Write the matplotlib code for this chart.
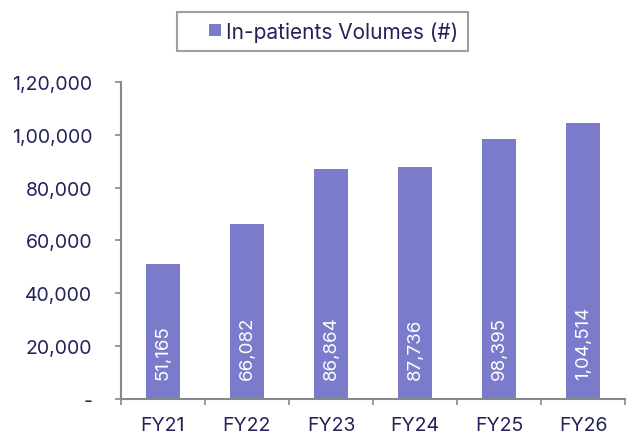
import matplotlib.pyplot as plt
import numpy as np
from matplotlib.lines import Line2D
from matplotlib.ticker import FixedLocator, FuncFormatter

years = ["FY21", "FY22", "FY23", "FY24", "FY25", "FY26"]
inpatients = [51165, 66082, 86864, 87736, 98395, 104514]
value_labels = ["51,165", "66,082", "86,864", "87,736", "98,395", "1,04,514"]
series_name = "In-patients Volumes (#)"

bar_color = "#7b7bcb"
text_color = "#23235a"
axis_color = "#888888"

plt.rcParams["font.family"] = ["Inter", "DejaVu Sans"]


def indian_fmt(v, pos=None):
    # lakh-style grouping: 1,20,000
    v = int(round(v))
    if v == 0:
        return "-"
    s = str(v)
    if len(s) <= 3:
        return s
    head, tail = s[:-3], s[-3:]
    groups = []
    while len(head) > 2:
        groups.insert(0, head[-2:])
        head = head[:-2]
    if head:
        groups.insert(0, head)
    return ",".join(groups + [tail])


fig = plt.figure(figsize=(6.29, 4.39), dpi=100)
ax = fig.add_axes([0.192, 0.089, 0.802, 0.722])

x = np.arange(len(years))
ax.bar(x, inpatients, width=0.4, color=bar_color)

for xi, lab in zip(x, value_labels):
    ax.text(xi, 7500, lab, rotation=90, ha="center", va="bottom",
            color="white", fontsize=13.5)

ax.set_xlim(-0.5, len(years) - 0.5)
ax.set_ylim(0, 120000)
ax.set_yticks(np.arange(0, 120001, 20000))
ax.yaxis.set_major_formatter(FuncFormatter(indian_fmt))
ax.set_xticks(x)
ax.set_xticklabels(years)
ax.xaxis.set_minor_locator(FixedLocator(np.arange(-0.5, len(years), 1.0)))
ax.tick_params(axis="x", which="major", length=0, pad=12,
               labelsize=14, labelcolor=text_color)
ax.tick_params(axis="x", which="minor", length=4.5, color=axis_color, width=1.2)
ax.tick_params(axis="y", length=4.5, color=axis_color, width=1.2, pad=16,
               labelsize=14, labelcolor=text_color)

for side in ["top", "right"]:
    ax.spines[side].set_visible(False)
for side in ["left", "bottom"]:
    ax.spines[side].set_color(axis_color)
    ax.spines[side].set_linewidth(1.5)

handle = Line2D([], [], linestyle="none", marker="s", markersize=9,
                markerfacecolor=bar_color, markeredgewidth=0)
leg = fig.legend([handle], [series_name], loc="center",
                 bbox_to_anchor=(0.513, 0.926), frameon=True, fancybox=False,
                 fontsize=15, handlelength=2.7, handletextpad=-0.8,
                 borderpad=0.45, borderaxespad=0)
leg.get_frame().set_edgecolor(axis_color)
leg.get_frame().set_linewidth(1.5)
for t in leg.get_texts():
    t.set_color(text_color)

fig.savefig("out.png", dpi=100)
